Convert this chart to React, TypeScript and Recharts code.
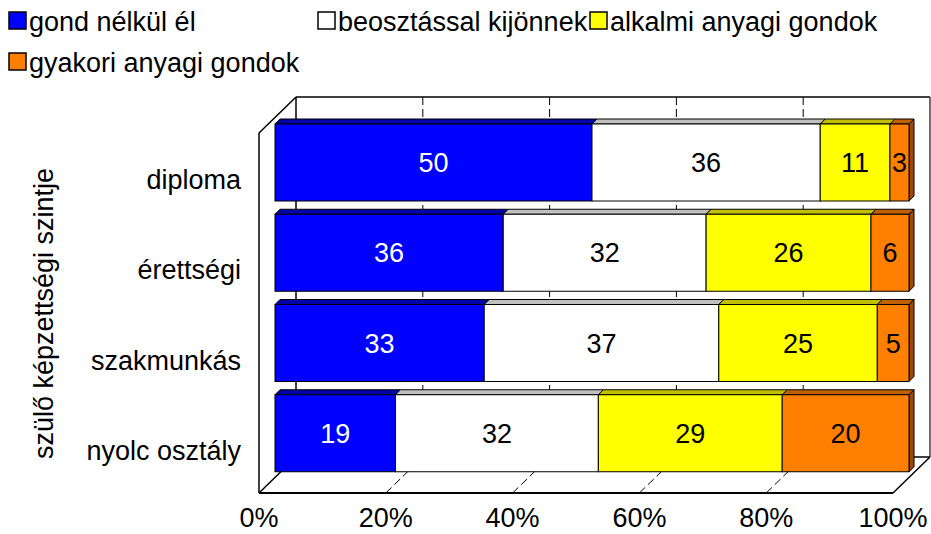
import { Bar, BarChart, CartesianGrid, LabelList, Legend, XAxis, YAxis } from 'recharts'

const categories = ['diploma', 'érettségi', 'szakmunkás', 'nyolc osztály']
const gondNelkul = [50, 36, 33, 19]
const beosztassal = [36, 32, 37, 32]
const alkalmi = [11, 26, 25, 29]
const gyakori = [3, 6, 5, 20]
const seriesNames = [
  'gond nélkül él',
  'beosztással kijönnek',
  'alkalmi anyagi gondok',
  'gyakori anyagi gondok',
]
const xTicks = [0, 20, 40, 60, 80, 100]
const axisTitle = 'szülő képzettségi szintje'

const FONT = '"Liberation Sans", Arial, sans-serif'
const FS = 27

// front / top / side colours of each series
const COLORS = [
  { front: '#0000ff', top: '#0000a8', side: '#000080', text: '#ffffff' },
  { front: '#ffffff', top: '#c0c0c0', side: '#909090', text: '#000000' },
  { front: '#ffff00', top: '#c0c000', side: '#909000', text: '#000000' },
  { front: '#ff8000', top: '#c06000', side: '#a04800', text: '#000000' },
]

const data = categories.map((name, i) => ({
  name,
  s0: gondNelkul[i],
  s1: beosztassal[i],
  s2: alkalmi[i],
  s3: gyakori[i],
}))

const D = 5 // bar depth
const BACK = 21 // back wall offset from bar plane
const FRONT = 16 // front edge offset from bar plane

function make3DBar(c: (typeof COLORS)[number], withSide: boolean) {
  return (p: any) => {
    const { x, y, width: w, height: h } = p
    if (!w || !h) return <g />
    return (
      <g>
        {withSide && (
          <polygon
            points={`${x + w},${y} ${x + w + D},${y - D} ${x + w + D},${y + h - D} ${x + w},${y + h}`}
            fill={c.side}
            stroke="#000"
            strokeWidth={1}
          />
        )}
        <polygon
          points={`${x},${y} ${x + D},${y - D} ${x + w + D},${y - D} ${x + w},${y}`}
          fill={c.top}
          stroke="#000"
          strokeWidth={1}
        />
        <rect x={x} y={y} width={w} height={h} fill={c.front} stroke="#000" strokeWidth={1} />
      </g>
    )
  }
}

// grid + 3D box drawn from the vertical grid lines
function gridLine(p: any) {
  const { x1, y1, y2, index } = p
  const width = typeof p.width === 'number' ? p.width : 634
  const top = y1 - 20
  const backFloor = y2 - BACK
  const frontFloor = y2 + 15
  const last = index === xTicks.length - 1
  return (
    <g key={`g-${index}`} fill="none">
      {index === 0 && (
        <g stroke="#000" strokeWidth={1.5}>
          <line x1={x1 + BACK} y1={top} x2={x1 + BACK + width} y2={top} />
          <line x1={x1 + BACK} y1={top} x2={x1 + BACK} y2={backFloor} />
          <line x1={x1 - FRONT} y1={top + 36} x2={x1 + BACK} y2={top} />
          <line x1={x1 - FRONT} y1={top + 36} x2={x1 - FRONT} y2={frontFloor} />
          <line x1={x1 - FRONT} y1={frontFloor} x2={x1 + BACK} y2={backFloor} />
          <line x1={x1 + BACK} y1={backFloor} x2={x1 + BACK + width} y2={backFloor} />
          <line x1={x1 - FRONT} y1={frontFloor} x2={x1 - FRONT + width} y2={frontFloor} strokeWidth={2} />
        </g>
      )}
      {last && (
        <g stroke="#000" strokeWidth={1.5}>
          <line x1={x1 + BACK} y1={top} x2={x1 + BACK} y2={backFloor} stroke="#404040" />
          <line x1={x1 - FRONT} y1={frontFloor} x2={x1 + BACK} y2={backFloor} />
        </g>
      )}
      {index > 0 && !last && (
        <g stroke="#000" strokeWidth={1} strokeDasharray="8 4">
          <line x1={x1 + BACK} y1={top} x2={x1 + BACK} y2={backFloor} />
          <line x1={x1 - FRONT} y1={frontFloor} x2={x1 + BACK} y2={backFloor} />
        </g>
      )}
    </g>
  )
}

function XTick(p: any) {
  const { x, payload } = p
  return (
    <text x={x - FRONT} y={527} textAnchor="middle" fontFamily={FONT} fontSize={FS} fill="#000">
      {`${payload.value}%`}
    </text>
  )
}

function YTick(p: any) {
  const { x, y, payload } = p
  return (
    <text x={x - 32} y={y + 27} textAnchor="end" fontFamily={FONT} fontSize={FS} fill="#000">
      {payload.value}
    </text>
  )
}

function YTitle(p: any) {
  const vb = p.viewBox || { x: 20, y: 117, width: 255, height: 361 }
  const cx = vb.x + 24
  const cy = vb.y + vb.height / 2 + 16
  return (
    <text
      x={cx}
      y={cy}
      transform={`rotate(-90 ${cx} ${cy})`}
      textAnchor="middle"
      dominantBaseline="central"
      fontFamily={FONT}
      fontSize={FS}
      fill="#000"
    >
      {axisTitle}
    </text>
  )
}

const legendPos = [
  { x: 9, y: 12 },
  { x: 318, y: 12 },
  { x: 590, y: 12 },
  { x: 9, y: 53 },
]

function LegendBox() {
  return (
    <svg width={931} height={80} style={{ display: 'block' }}>
      {seriesNames.map((n, i) => (
        <g key={n}>
          <rect
            x={legendPos[i].x}
            y={legendPos[i].y}
            width={17}
            height={17}
            fill={COLORS[i].front}
            stroke="#000"
            strokeWidth={1.5}
          />
          <text
            x={legendPos[i].x + 20}
            y={legendPos[i].y + 19}
            fontFamily={FONT}
            fontSize={FS}
            fill="#000"
          >
            {n}
          </text>
        </g>
      ))}
    </svg>
  )
}

export default function App() {
  const keys = ['s0', 's1', 's2', 's3']
  return (
    <div style={{ position: 'absolute', left: 0, top: 0, width: 931, height: 534, background: '#fff' }}>
      <BarChart
        width={931}
        height={534}
        layout="vertical"
        data={data}
        margin={{ top: 117, right: 22, bottom: 0, left: 20 }}
        barSize={77}
      >
        <CartesianGrid horizontal={false} vertical={gridLine} />
        <XAxis
          type="number"
          domain={[0, 100]}
          ticks={xTicks}
          height={56}
          axisLine={false}
          tickLine={false}
          tick={<XTick />}
          interval={0}
        />
        <YAxis
          type="category"
          dataKey="name"
          width={255}
          axisLine={false}
          tickLine={false}
          tickSize={0}
          tick={<YTick />}
          interval={0}
          label={{ content: <YTitle /> }}
        />
        <Legend
          layout="horizontal"
          verticalAlign="middle"
          align="center"
          wrapperStyle={{ top: 0, left: 0, width: 931, height: 80 }}
          content={() => <LegendBox />}
        />
        {keys.map((k, i) => (
          <Bar
            key={k}
            dataKey={k}
            name={seriesNames[i]}
            stackId="a"
            fill={COLORS[i].front}
            isAnimationActive={false}
            shape={make3DBar(COLORS[i], i === keys.length - 1)}
          >
            <LabelList
              dataKey={k}
              position="center"
              fill={COLORS[i].text}
              fontFamily={FONT}
              fontSize={FS}
            />
          </Bar>
        ))}
      </BarChart>
    </div>
  )
}
